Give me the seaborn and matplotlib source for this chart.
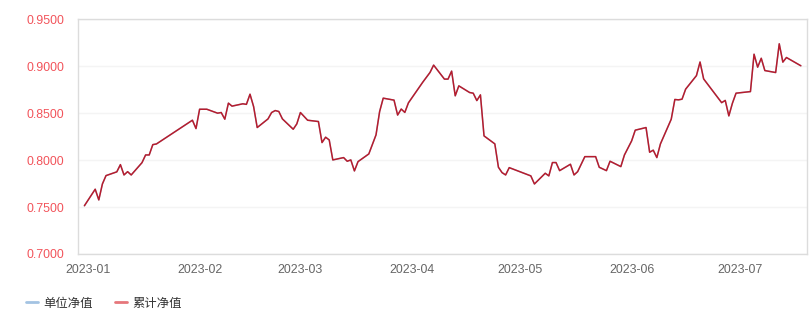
import matplotlib
matplotlib.use("Agg")
import matplotlib.pyplot as plt
import matplotlib.dates as mdates
from matplotlib.lines import Line2D
from matplotlib.ticker import MultipleLocator, FormatStrFormatter
import seaborn as sns
import pandas as pd

dates = [
    "2022-12-31", "2023-01-03", "2023-01-04", "2023-01-05", "2023-01-06", "2023-01-09",
    "2023-01-10", "2023-01-11", "2023-01-12", "2023-01-13", "2023-01-16", "2023-01-17",
    "2023-01-18", "2023-01-19", "2023-01-20", "2023-01-30", "2023-01-31", "2023-02-01",
    "2023-02-03", "2023-02-06", "2023-02-07", "2023-02-08", "2023-02-09", "2023-02-10",
    "2023-02-13", "2023-02-14", "2023-02-15", "2023-02-16", "2023-02-17", "2023-02-20",
    "2023-02-21", "2023-02-22", "2023-02-23", "2023-02-24", "2023-02-27", "2023-02-28",
    "2023-03-01", "2023-03-03", "2023-03-06", "2023-03-07", "2023-03-08", "2023-03-09",
    "2023-03-10", "2023-03-13", "2023-03-14", "2023-03-15", "2023-03-16", "2023-03-17",
    "2023-03-20", "2023-03-22", "2023-03-23", "2023-03-24", "2023-03-27", "2023-03-28",
    "2023-03-29", "2023-03-30", "2023-03-31", "2023-04-04", "2023-04-06", "2023-04-07",
    "2023-04-10", "2023-04-11", "2023-04-12", "2023-04-13", "2023-04-14", "2023-04-17",
    "2023-04-18", "2023-04-19", "2023-04-20", "2023-04-21", "2023-04-24", "2023-04-25",
    "2023-04-26", "2023-04-27", "2023-04-28", "2023-05-04", "2023-05-05", "2023-05-08",
    "2023-05-09", "2023-05-10", "2023-05-11", "2023-05-12", "2023-05-15", "2023-05-16",
    "2023-05-17", "2023-05-19", "2023-05-22", "2023-05-23", "2023-05-25", "2023-05-26",
    "2023-05-29", "2023-05-30", "2023-06-01", "2023-06-02", "2023-06-05", "2023-06-06",
    "2023-06-07", "2023-06-08", "2023-06-09", "2023-06-12", "2023-06-13", "2023-06-14",
    "2023-06-15", "2023-06-16", "2023-06-19", "2023-06-20", "2023-06-21", "2023-06-26",
    "2023-06-27", "2023-06-28", "2023-06-29", "2023-06-30", "2023-07-04", "2023-07-05",
    "2023-07-06", "2023-07-07", "2023-07-08", "2023-07-11", "2023-07-12", "2023-07-13",
    "2023-07-14", "2023-07-18",
]

cum_nav = [
    0.7514, 0.7690, 0.7576, 0.7746, 0.7835, 0.7875,
    0.7952, 0.7842, 0.7877, 0.7842, 0.7973, 0.8055,
    0.8055, 0.8165, 0.8172, 0.8425, 0.8336, 0.8542,
    0.8542, 0.8500, 0.8507, 0.8436, 0.8607, 0.8575,
    0.8600, 0.8594, 0.8702, 0.8570, 0.8347, 0.8439,
    0.8507, 0.8528, 0.8518, 0.8439, 0.8329, 0.8386,
    0.8507, 0.8425, 0.8411, 0.8187, 0.8244, 0.8215,
    0.8002, 0.8027, 0.7988, 0.8002, 0.7885, 0.7984,
    0.8066, 0.8269, 0.8517, 0.8660, 0.8639, 0.8480,
    0.8544, 0.8508, 0.8610, 0.8831, 0.8934, 0.9012,
    0.8863, 0.8863, 0.8948, 0.8685, 0.8791, 0.8720,
    0.8713, 0.8634, 0.8695, 0.8258, 0.8173, 0.7924,
    0.7867, 0.7842, 0.7920, 0.7832, 0.7746, 0.7860,
    0.7832, 0.7974, 0.7974, 0.7888, 0.7956, 0.7842,
    0.7877, 0.8037, 0.8037, 0.7924, 0.7888, 0.7988,
    0.7931, 0.8055, 0.8205, 0.8319, 0.8347, 0.8084,
    0.8106, 0.8027, 0.8173, 0.8436, 0.8646, 0.8642,
    0.8649, 0.8756, 0.8900, 0.9045, 0.8865, 0.8612,
    0.8636, 0.8471, 0.8607, 0.8713, 0.8730, 0.9128,
    0.8990, 0.9085, 0.8954, 0.8933, 0.9239, 0.9044,
    0.9093, 0.9005,
]
# unit NAV coincides with cumulative NAV (hidden beneath it)
unit_nav = list(cum_nav)

series_names = ["单位净值", "累计净值"]
y_ticks = [0.70, 0.75, 0.80, 0.85, 0.90, 0.95]
x_range = ["2022-12-29 05:20", "2023-07-19 17:00"]

df = pd.DataFrame({"date": pd.to_datetime(dates), "unit": unit_nav, "cum": cum_nav})

sns.set_theme(style="white")
plt.rcParams["font.family"] = ["Liberation Sans", "Noto Sans CJK SC", "DejaVu Sans"]

fig = plt.figure(figsize=(8.11, 3.16), dpi=100)
ax = fig.add_axes([78 / 811, 1 - 254 / 316, (807 - 78) / 811, (254 - 19.3) / 316])

sns.lineplot(data=df, x="date", y="unit", ax=ax, color="#a3c3e2", linewidth=1.0)
sns.lineplot(data=df, x="date", y="cum", ax=ax, color="#b71c2c", linewidth=1.1)

ax.set_xlim(pd.Timestamp(x_range[0]), pd.Timestamp(x_range[1]))
ax.set_ylim(y_ticks[0], y_ticks[-1])
ax.yaxis.set_major_locator(MultipleLocator(0.05))
ax.yaxis.set_major_formatter(FormatStrFormatter("%.4f"))
ax.xaxis.set_major_locator(mdates.MonthLocator())
ax.xaxis.set_major_formatter(mdates.DateFormatter("%Y-%m"))
ax.set_xlabel("")
ax.set_ylabel("")

ax.grid(axis="y", color="#f4f4f4", linewidth=1)
ax.grid(axis="x", visible=False)
for s in ax.spines.values():
    s.set_color("#dcdcdc")
    s.set_linewidth(1)

ax.tick_params(axis="y", length=0, pad=10, labelsize=8.9, labelcolor="#f2545b")
ax.tick_params(axis="x", length=0, pad=7, labelsize=8.9, labelcolor="#666666")

handles = [Line2D([], [], color="#a3c3e2", linewidth=2.0),
           Line2D([], [], color="#e6777b", linewidth=2.0)]
leg = fig.legend(handles, series_names, loc="center left",
                 bbox_to_anchor=(26 / 811, 1 - 303 / 316), ncol=2, frameon=False,
                 handlelength=0.95, handletextpad=0.45, columnspacing=1.8,
                 borderpad=0, borderaxespad=0,
                 prop={"family": ["Noto Sans CJK SC", "DejaVu Sans"], "size": 8.9})
for t in leg.get_texts():
    t.set_color("#333333")

fig.savefig("out.png", dpi=100)
